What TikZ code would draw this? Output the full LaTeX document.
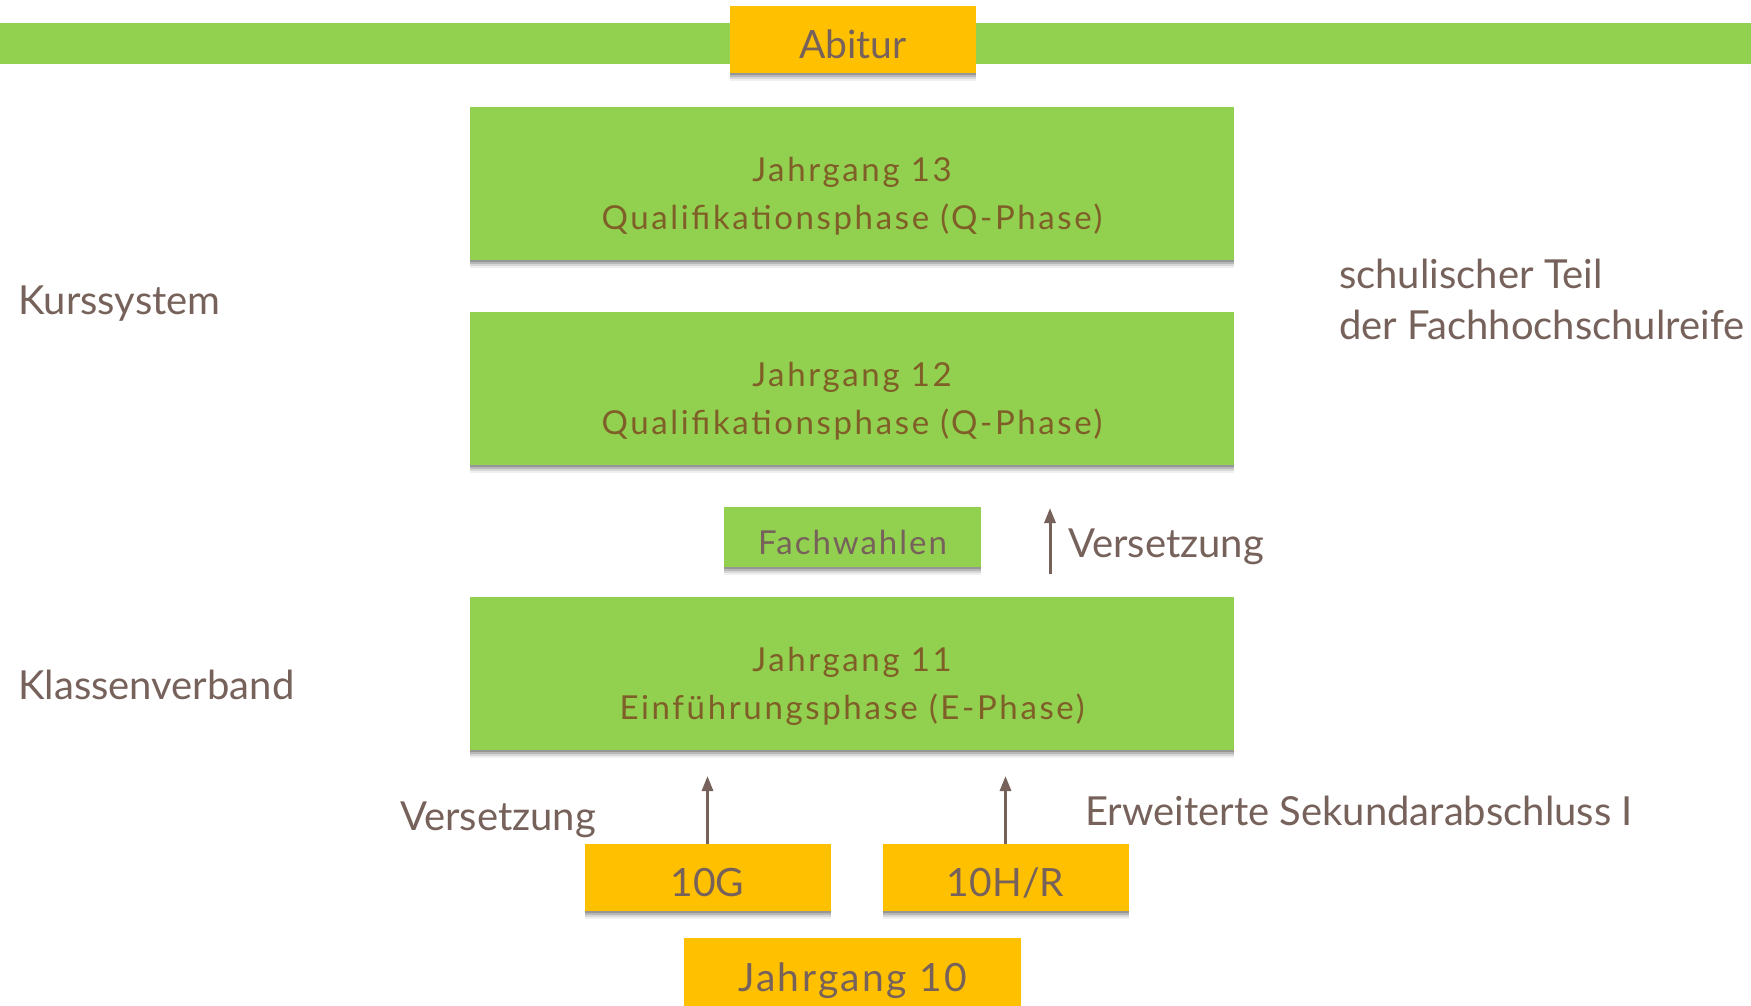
\documentclass[tikz,border=0pt]{standalone}
\usepackage{fontspec}
\setmainfont{Lato}
\newfontfamily\boxfont[LetterSpace=6]{Lato}
\newfontfamily\boxfontw[LetterSpace=8]{Lato}
\usetikzlibrary{shadows,arrows.meta}
\definecolor{pgreen}{HTML}{92D050}
\definecolor{pgold}{HTML}{FFC000}
\definecolor{lbrown}{HTML}{76625B}
\definecolor{tbrown}{HTML}{7F5F27}
\tikzset{
  shad/.style={
    general shadow={shadow yshift=-8pt,fill=black,opacity=0.06},
    general shadow={shadow yshift=-6pt,fill=black,opacity=0.10},
    general shadow={shadow yshift=-4pt,fill=black,opacity=0.14},
    general shadow={shadow yshift=-2pt,fill=black,opacity=0.18}},
  greenbox/.style={shad,fill=pgreen,draw=none,minimum width=764pt,minimum height=153pt,inner sep=0pt},
  boxtext/.style={text=tbrown,align=center,inner sep=0pt,font=\boxfontw\fontsize{33}{48}\selectfont},
  goldbox/.style={shad,fill=pgold,draw=none,minimum width=246pt,minimum height=67pt,inner sep=0pt,
     text=lbrown,text height=41pt,text depth=3pt,font=\fontsize{39}{48}\selectfont},
  lbl/.style={text=lbrown,anchor=base west,inner sep=0pt,font=\fontsize{40}{50}\selectfont},
  uparrow/.style={draw=lbrown,line width=3pt,-{Triangle[length=15pt,width=11pt]}},
}
\begin{document}
\begin{tikzpicture}[x=1pt,y=-1pt]
\useasboundingbox (0,0) rectangle (1751,1006);
\fill[white] (0,0) rectangle (1751,1006);
\fill[pgreen] (0,23) rectangle (1751,64);
\node[goldbox] (abitur) at (853,39.5) {Abitur};
\node[greenbox] (j13) at (852,183.5) {};
\node[boxtext] (j13t) at ([yshift=-13pt]j13.center) {Jahrgang 13\\Qualifikationsphase (Q-Phase)};
\node[greenbox] (j12) at (852,388.5) {};
\node[boxtext] (j12t) at ([yshift=-13pt]j12.center) {Jahrgang 12\\Qualifikationsphase (Q-Phase)};
\node[shad,fill=pgreen,minimum width=257pt,minimum height=60pt,inner sep=0pt,text=lbrown,
  text height=36pt,text depth=2pt,
  font=\boxfont\fontsize{33}{40}\selectfont] (fach) at (852.5,537) {Fachwahlen};
\node[greenbox] (j11) at (852,673) {};
\node[boxtext] (j11t) at ([yshift=-13pt]j11.center) {Jahrgang 11\\Einführungsphase (E-Phase)};
\node[goldbox] (g10) at (707.5,877.5) {10G};
\node[goldbox] (hr10) at (1005.5,877.5) {10H/R};
\node[goldbox,minimum width=337pt,minimum height=68pt,font=\boxfont\fontsize{39}{48}\selectfont] (j10) at (852.5,972) {Jahrgang 10};
% arrows
\coordinate (a1s) at (1050,574);
\coordinate (a1e) at (1050,508);
\draw[uparrow] (a1s) -- (a1e);
\coordinate (a2e) at (707.5,776);
\draw[uparrow] (g10.north) -- (a2e);
\coordinate (a3e) at (1005.5,776);
\draw[uparrow] (hr10.north) -- (a3e);
% labels
\node[lbl] (kurs) at (18,314) {Kurssystem};
\node[lbl] (klass) at (18,699) {Klassenverband};
\node[lbl] (schul1) at (1339,288) {schulischer Teil};
\node[lbl] (schul2) at (1339,339) {der Fachhochschulreife};
\node[lbl] (vers1) at (1068,557) {Versetzung};
\node[lbl] (vers2) at (400,830) {Versetzung};
\node[lbl] (erw) at (1085,825) {Erweiterte Sekundarabschluss I};
\end{tikzpicture}
\end{document}
